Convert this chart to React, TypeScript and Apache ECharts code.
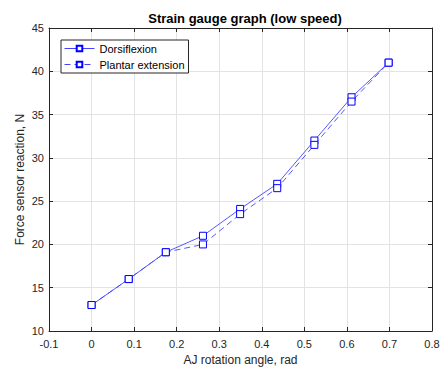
import React, { useEffect, useRef } from "react";
import * as echarts from "echarts";

const angles = [0, 0.0873, 0.1745, 0.2618, 0.3491, 0.4363, 0.5236, 0.6109, 0.6981];
const dorsiflexion = [13, 16, 19.1, 21, 24.1, 27, 32, 37, 41];
const plantar = [13, 16, 19.1, 20, 23.5, 26.5, 31.5, 36.5, 41];
const seriesNames = ["Dorsiflexion", "Plantar extension"];

const FONT = "Liberation Sans, Arial, Helvetica, sans-serif";
const AX = "#262626";

export default function App() {
  const ref = useRef<HTMLDivElement>(null);
  useEffect(() => {
    const chart = echarts.init(ref.current!, null, { renderer: "svg" });
    const fmt = (v: number) => String(Number(v.toFixed(1)));
    const common = {
      axisLine: { show: true, onZero: false, lineStyle: { color: AX, width: 1 } },
      axisTick: { show: true, inside: true, length: 4, lineStyle: { color: AX } },
    };
    chart.setOption({
      animation: false,
      backgroundColor: "#ffffff",
      title: {
        text: "Strain gauge graph (low speed)",
        left: 240,
        textAlign: "center",
        top: 7,
        textStyle: { fontFamily: FONT, fontSize: 13, fontWeight: "bold", color: "#000" },
      },
      legend: {
        left: 61,
        top: 40,
        orient: "vertical",
        data: seriesNames,
        itemWidth: 30,
        itemHeight: 7,
        itemGap: 5,
        padding: [3, 4, 3, 3],
        borderColor: AX,
        borderWidth: 1,
        backgroundColor: "#fff",
        lineStyle: { width: 1 },
        textStyle: { fontFamily: FONT, fontSize: 11, color: "#000" },
      },
      grid: { left: 49, top: 28, right: 12, bottom: 36, containLabel: false, outerBoundsMode: "none" },
      xAxis: [
        {
          type: "value",
          min: -0.1,
          max: 0.8,
          interval: 0.1,
          name: "AJ rotation angle, rad",
          nameLocation: "middle",
          nameGap: 22,
          nameTextStyle: { fontFamily: FONT, fontSize: 12, color: AX },
          ...common,
          axisLabel: { fontFamily: FONT, fontSize: 11, color: AX, margin: 7, formatter: fmt },
          splitLine: { show: true, lineStyle: { color: "#e3e3e3", width: 1 } },
        },
        {
          type: "value",
          position: "top",
          min: -0.1,
          max: 0.8,
          interval: 0.1,
          ...common,
          axisLabel: { show: false },
          splitLine: { show: false },
        },
      ],
      yAxis: [
        {
          type: "value",
          min: 10,
          max: 45,
          interval: 5,
          name: "Force sensor reaction, N",
          nameLocation: "middle",
          nameGap: 23,
          nameMoveOverlap: false,
          nameTextStyle: { fontFamily: FONT, fontSize: 12, color: AX },
          ...common,
          axisLabel: { fontFamily: FONT, fontSize: 11, color: AX, margin: 5 },
          splitLine: { show: true, lineStyle: { color: "#e3e3e3", width: 1 } },
        },
        {
          type: "value",
          position: "right",
          min: 10,
          max: 45,
          interval: 5,
          ...common,
          axisLabel: { show: false },
          splitLine: { show: false },
        },
      ],
      series: [
        {
          name: seriesNames[0],
          type: "line",
          data: angles.map((a, i) => [a, dorsiflexion[i]]),
          symbol: "rect",
          symbolSize: 7,
          itemStyle: { color: "#fff", borderColor: "#0000ff", borderWidth: 1 },
          lineStyle: { color: "#4444ff", width: 0.9, type: "solid" },
        },
        {
          name: seriesNames[1],
          type: "line",
          data: angles.map((a, i) => [a, plantar[i]]),
          symbol: "rect",
          symbolSize: 7,
          itemStyle: { color: "#fff", borderColor: "#0000ff", borderWidth: 1 },
          lineStyle: { color: "#4444ff", width: 0.9, type: [6, 4] },
        },
      ],
    });
    return () => chart.dispose();
  }, []);
  return <div ref={ref} style={{ width: 444, height: 367, position: "absolute", left: 0, top: 0 }} />;
}
